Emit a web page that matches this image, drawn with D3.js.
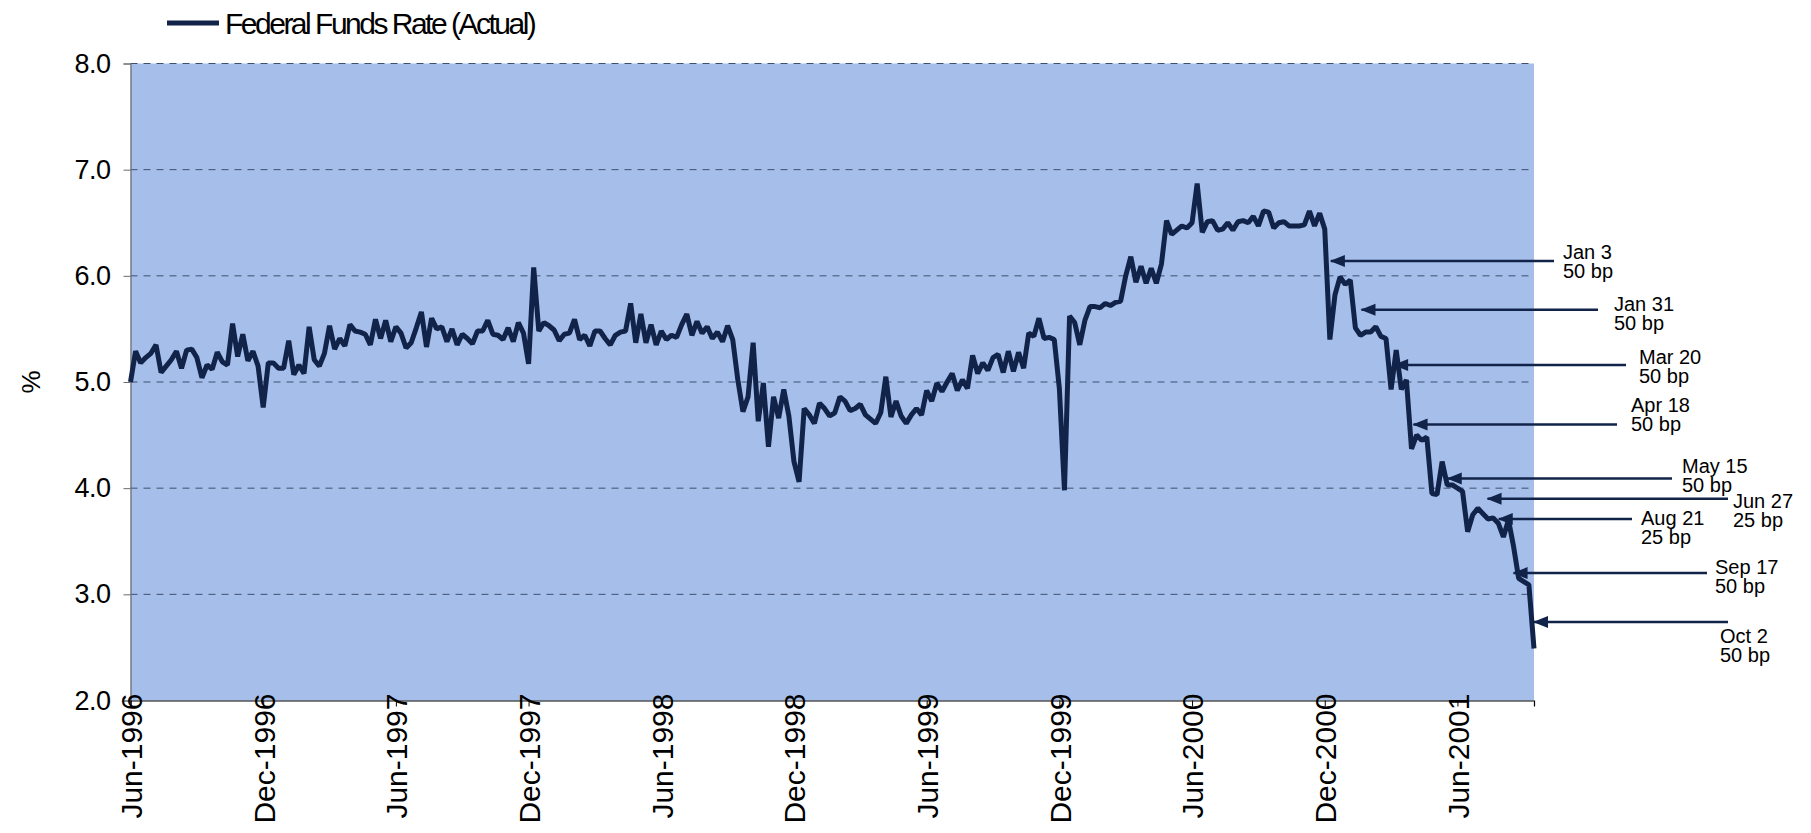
<!DOCTYPE html>
<html>
<head>
<meta charset="utf-8">
<script src="https://cdn.jsdelivr.net/npm/d3@7/dist/d3.min.js"></script>
<style>
  body { margin: 0; background: #fff; }
  svg { display: block; font-family: "Liberation Sans", Arial, sans-serif; }
</style>
</head>
<body>
<div id="chart"></div>
<script>
// weekly effective fed funds rate, first week = late June 1996
var seriesName = "Federal Funds Rate (Actual)";
var fedFunds = [
    5.00, 5.29, 5.18, 5.23, 5.27, 5.35, 5.09, 5.15, 5.21, 5.29,
    5.13, 5.30, 5.31, 5.23, 5.04, 5.16, 5.12, 5.28, 5.19, 5.16,
    5.55, 5.24, 5.45, 5.20, 5.29, 5.15, 4.76, 5.18, 5.18, 5.13,
    5.13, 5.39, 5.07, 5.16, 5.08, 5.52, 5.21, 5.15, 5.27, 5.53,
    5.31, 5.41, 5.34, 5.54, 5.48, 5.47, 5.45, 5.35, 5.59, 5.41,
    5.58, 5.38, 5.52, 5.46, 5.32, 5.37, 5.51, 5.66, 5.33, 5.60,
    5.50, 5.52, 5.38, 5.50, 5.35, 5.45, 5.41, 5.36, 5.48, 5.48,
    5.58, 5.45, 5.44, 5.40, 5.51, 5.38, 5.56, 5.46, 5.17, 6.08,
    5.48, 5.56, 5.53, 5.49, 5.39, 5.45, 5.46, 5.59, 5.40, 5.44,
    5.34, 5.48, 5.48, 5.41, 5.35, 5.44, 5.47, 5.48, 5.74, 5.37,
    5.64, 5.37, 5.54, 5.35, 5.48, 5.40, 5.44, 5.42, 5.54, 5.64,
    5.44, 5.57, 5.46, 5.52, 5.41, 5.47, 5.38, 5.53, 5.40, 5.02,
    4.72, 4.86, 5.37, 4.63, 4.99, 4.39, 4.86, 4.66, 4.93, 4.68,
    4.25, 4.06, 4.75, 4.69, 4.61, 4.80, 4.75, 4.68, 4.71, 4.86,
    4.82, 4.73, 4.75, 4.79, 4.69, 4.65, 4.61, 4.71, 5.05, 4.67,
    4.82, 4.68, 4.61, 4.69, 4.75, 4.69, 4.92, 4.82, 4.99, 4.91,
    5.00, 5.08, 4.92, 5.02, 4.94, 5.25, 5.08, 5.18, 5.11, 5.23,
    5.26, 5.09, 5.29, 5.10, 5.28, 5.13, 5.46, 5.43, 5.60, 5.41,
    5.42, 5.40, 4.94, 3.98, 5.62, 5.56, 5.35, 5.58, 5.71, 5.71,
    5.70, 5.74, 5.72, 5.75, 5.76, 6.00, 6.18, 5.94, 6.09, 5.93,
    6.07, 5.93, 6.11, 6.52, 6.39, 6.43, 6.47, 6.45, 6.50, 6.87,
    6.41, 6.51, 6.52, 6.43, 6.44, 6.50, 6.43, 6.51, 6.52, 6.50,
    6.56, 6.47, 6.61, 6.60, 6.45, 6.50, 6.51, 6.47, 6.47, 6.47,
    6.48, 6.61, 6.47, 6.59, 6.44, 5.40, 5.82, 5.99, 5.92, 5.96,
    5.51, 5.44, 5.47, 5.47, 5.52, 5.43, 5.41, 4.93, 5.30, 4.93,
    5.02, 4.37, 4.50, 4.45, 4.48, 3.95, 3.94, 4.25, 4.03, 4.03,
    4.00, 3.97, 3.59, 3.75, 3.81, 3.76, 3.71, 3.72, 3.67, 3.54,
    3.70, 3.45, 3.15, 3.12, 3.09, 2.49
];

// category axis: one label every 26 weeks
var tickWeeks = [0, 26, 52, 78, 104, 130, 156, 182, 208, 234, 260];
var tickLabels = ["Jun-1996", "Dec-1996", "Jun-1997", "Dec-1997", "Jun-1998", "Dec-1998",
                  "Jun-1999", "Dec-1999", "Jun-2000", "Dec-2000", "Jun-2001"];
var yTicks = [2, 3, 4, 5, 6, 7, 8];

// 2001 rate cuts: label, size, week the arrow points to, level of the arrow
var cutDates = ["Jan 3", "Jan 31", "Mar 20", "Apr 18", "May 15", "Jun 27", "Aug 21", "Sep 17", "Oct 2"];
var cutSizes = ["50 bp", "50 bp", "50 bp", "50 bp", "50 bp", "25 bp", "25 bp", "50 bp", "50 bp"];
var cutWeeks = [235.0, 241.0, 247.4, 251.2, 257.9, 265.7, 267.9, 270.8, 274.8];
var cutLevels = [6.14, 5.68, 5.16, 4.60, 4.09, 3.90, 3.71, 3.20, 2.74];

// annotation layout (pixels): arrow tail x, text x, text baseline offset from arrow
var cutLayout = [
    {tail: 1554, tx: 1563, dy: -2},
    {tail: 1598, tx: 1614, dy: 1},
    {tail: 1626, tx: 1639, dy: -1},
    {tail: 1617, tx: 1631, dy: -12},
    {tail: 1672, tx: 1682, dy: -6},
    {tail: 1728, tx: 1733, dy: 9},
    {tail: 1632, tx: 1641, dy: 6},
    {tail: 1707, tx: 1715, dy: 1},
    {tail: 1728, tx: 1720, dy: 21}
];

var width = 1811, height = 833;
var plot = {left: 130.5, right: 1534, top: 63.5, bottom: 700.5};
var navy = "#12234a";

var svg = d3.select("#chart").append("svg")
    .attr("width", width)
    .attr("height", height);

var x = d3.scaleLinear()
    .domain([0, fedFunds.length - 1])
    .range([plot.left, plot.right]);

var y = d3.scaleLinear()
    .domain([2, 8])
    .range([plot.bottom, plot.top]);

// plot background
svg.append("rect")
    .attr("x", plot.left)
    .attr("y", plot.top)
    .attr("width", plot.right - plot.left)
    .attr("height", plot.bottom - plot.top)
    .attr("fill", "#a5bfea");

// dashed gridlines
svg.append("g")
    .selectAll("line")
    .data(yTicks.filter(function(d){ return d > 2; })).enter()
    .append("line")
    .attr("x1", plot.left)
    .attr("x2", plot.right)
    .attr("y1", function(d){ return y(d); })
    .attr("y2", function(d){ return y(d); })
    .attr("stroke", "#3f4f70")
    .attr("stroke-width", 1)
    .attr("stroke-dasharray", "7,6");

// y axis
var yAxis = d3.axisLeft(y)
    .tickValues(yTicks)
    .tickSize(7)
    .tickPadding(13)
    .tickFormat(d3.format(".1f"));

var gy = svg.append("g")
    .attr("transform", "translate(" + plot.left + ",0)")
    .call(yAxis);
gy.select(".domain").attr("stroke", "#6b6b6b").attr("stroke-width", 1.2);
gy.selectAll(".tick line").attr("stroke", "#6b6b6b");
gy.selectAll(".tick text")
    .attr("fill", "#000")
    .style("font-size", "27px")
    .style("letter-spacing", "-0.5px")
    .style("font-family", "'Liberation Sans', Arial, sans-serif");

svg.append("text")
    .attr("transform", "translate(31," + y(5) + ") rotate(-90)")
    .attr("text-anchor", "middle")
    .attr("dy", "0.35em")
    .style("font-size", "26px")
    .text("%");

// x axis
var xAxis = d3.axisBottom(x)
    .tickValues(tickWeeks)
    .tickSize(6)
    .tickFormat(function(d, i){ return tickLabels[i]; });

var gx = svg.append("g")
    .attr("transform", "translate(0," + plot.bottom + ")")
    .call(xAxis);
gx.select(".domain").attr("stroke", "#000").attr("stroke-width", 1.2);
gx.selectAll(".tick line").attr("stroke", "#000");
gx.selectAll(".tick text")
    .attr("transform", "rotate(-90)")
    .attr("text-anchor", "end")
    .attr("x", 7)
    .attr("y", 0)
    .attr("dy", "0.36em")
    .attr("fill", "#000")
    .style("font-size", "30px")
    .style("font-family", "'Liberation Sans', Arial, sans-serif");

// series line
var line = d3.line()
    .x(function(d, i){ return x(i); })
    .y(function(d){ return y(d); });

svg.append("path")
    .datum(fedFunds)
    .attr("d", line)
    .attr("fill", "none")
    .attr("stroke", navy)
    .attr("stroke-width", 5)
    .attr("stroke-linejoin", "bevel");

var cuts = cutDates.map(function(d, i){
    return {date: d, size: cutSizes[i], week: cutWeeks[i], level: cutLevels[i], lay: cutLayout[i]};
});

var ann = svg.append("g").selectAll("g")
    .data(cuts).enter()
    .append("g");

ann.append("line")
    .attr("x1", function(d){ return x(d.week) + 1; })
    .attr("x2", function(d){ return d.lay.tail; })
    .attr("y1", function(d){ return y(d.level); })
    .attr("y2", function(d){ return y(d.level); })
    .attr("stroke", navy)
    .attr("stroke-width", 2.5);

// arrowheads pointing at the line
ann.append("path")
    .attr("d", function(d){
        var tx = x(d.week), ty = y(d.level);
        return "M" + tx + "," + ty + "L" + (tx + 15) + "," + (ty - 6) + "L" + (tx + 15) + "," + (ty + 6) + "Z";
    })
    .attr("fill", navy);

ann.append("text")
    .attr("x", function(d){ return d.lay.tx; })
    .attr("y", function(d){ return y(d.level) + d.lay.dy; })
    .style("font-size", "20px")
    .text(function(d){ return d.date; });

ann.append("text")
    .attr("x", function(d){ return d.lay.tx; })
    .attr("y", function(d){ return y(d.level) + d.lay.dy + 19; })
    .style("font-size", "20px")
    .text(function(d){ return d.size; });

// legend
var legend = svg.append("g");
legend.append("line")
    .attr("x1", 167)
    .attr("x2", 219)
    .attr("y1", 23)
    .attr("y2", 23)
    .attr("stroke", navy)
    .attr("stroke-width", 5);
legend.append("text")
    .attr("x", 225)
    .attr("y", 23)
    .attr("dy", "0.35em")
    .style("font-size", "30px")
    .style("letter-spacing", "-2.5px")
    .text(seriesName);
</script>
</body>
</html>
